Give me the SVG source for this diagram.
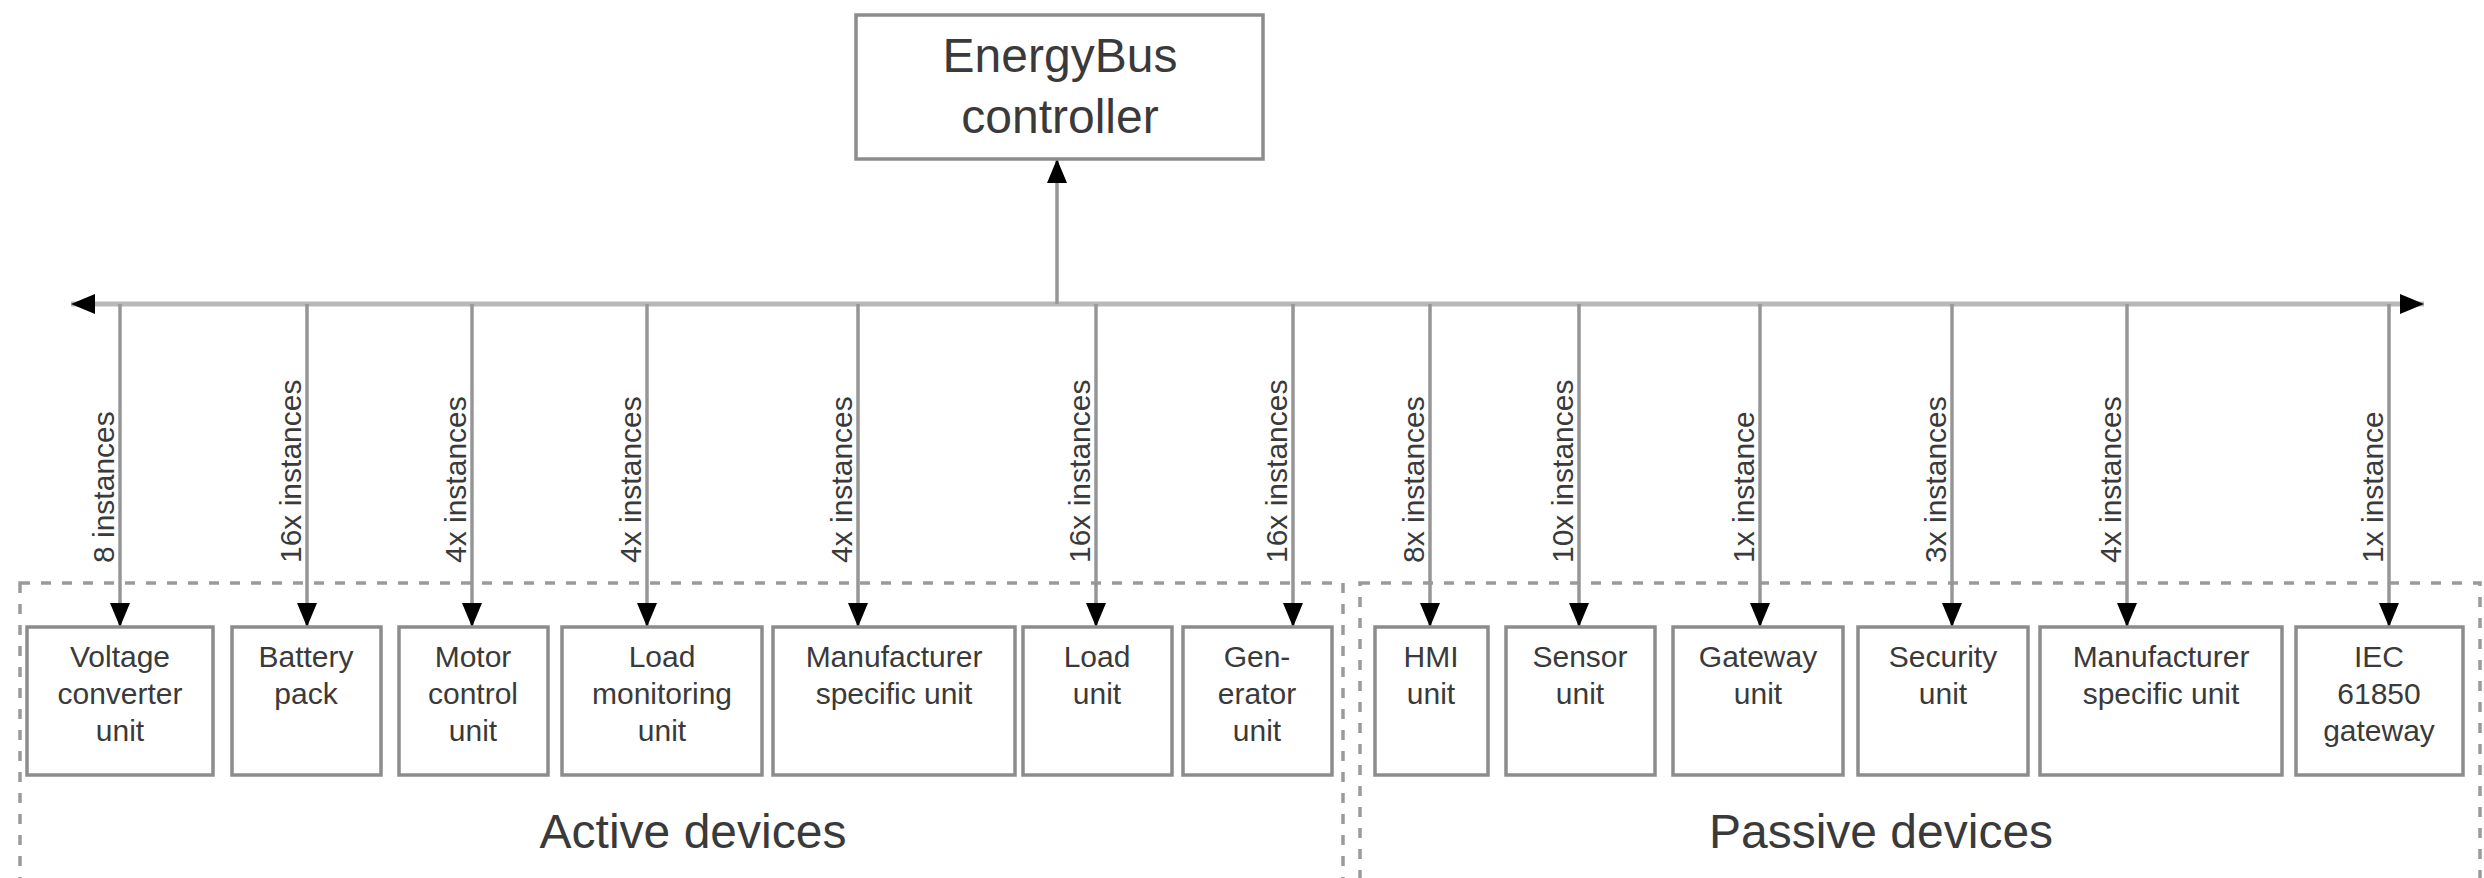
<svg xmlns="http://www.w3.org/2000/svg" width="2484" height="878" viewBox="0 0 2484 878">
<style>
  .box { fill: #ffffff; stroke: #8c8c8c; stroke-width: 3.5; }
  .t { font-family: "Liberation Sans", Arial, sans-serif; fill: #3a3a3a; text-anchor: middle; }
  .bt { font-size: 30px; }
  .big { font-size: 48px; }
  .lbl { font-family: "Liberation Sans", Arial, sans-serif; font-size: 30px; fill: #3a3a3a; text-anchor: start; }
  .bus { stroke: #b8b8b8; stroke-width: 5; fill: none; }
  .drop { stroke: #969696; stroke-width: 3.5; fill: none; marker-end: url(#arr); }
  .grp { fill: none; stroke: #9a9a9a; stroke-width: 3.5; stroke-dasharray: 10 11; }
</style>
<defs>
  <marker id="arr" markerUnits="userSpaceOnUse" markerWidth="24" markerHeight="20" refX="24" refY="10" orient="auto">
    <path d="M0,0 L24,10 L0,20 z" fill="#000"/>
  </marker>
  <marker id="arrS" markerUnits="userSpaceOnUse" markerWidth="24" markerHeight="20" refX="24" refY="10" orient="auto-start-reverse">
    <path d="M0,0 L24,10 L0,20 z" fill="#000"/>
  </marker>
</defs>
<rect width="2484" height="878" fill="#ffffff"/>

<g id="groups">
  <rect id="active-group" class="grp" x="20" y="583" width="1323" height="320"/>
  <rect id="passive-group" class="grp" x="1360" y="583" width="1120" height="320"/>
  <text class="t big" x="693" y="848">Active devices</text>
  <text class="t big" x="1881" y="848">Passive devices</text>
</g>

<g id="connectors">
  <line class="bus" x1="71" y1="304" x2="2424" y2="304" style="marker-start:url(#arrS);marker-end:url(#arrS)"/>
  <line class="drop" x1="1057" y1="304" x2="1057" y2="159"/>
  <line class="drop" x1="120" y1="304" x2="120" y2="627"/>
  <line class="drop" x1="307" y1="304" x2="307" y2="627"/>
  <line class="drop" x1="472" y1="304" x2="472" y2="627"/>
  <line class="drop" x1="647" y1="304" x2="647" y2="627"/>
  <line class="drop" x1="858" y1="304" x2="858" y2="627"/>
  <line class="drop" x1="1096" y1="304" x2="1096" y2="627"/>
  <line class="drop" x1="1293" y1="304" x2="1293" y2="627"/>
  <line class="drop" x1="1430" y1="304" x2="1430" y2="627"/>
  <line class="drop" x1="1579" y1="304" x2="1579" y2="627"/>
  <line class="drop" x1="1760" y1="304" x2="1760" y2="627"/>
  <line class="drop" x1="1952" y1="304" x2="1952" y2="627"/>
  <line class="drop" x1="2127" y1="304" x2="2127" y2="627"/>
  <line class="drop" x1="2389" y1="304" x2="2389" y2="627"/>
  <text class="lbl" transform="translate(114,563) rotate(-90)">8 instances</text>
  <text class="lbl" transform="translate(301,563) rotate(-90)">16x instances</text>
  <text class="lbl" transform="translate(466,563) rotate(-90)">4x instances</text>
  <text class="lbl" transform="translate(641,563) rotate(-90)">4x instances</text>
  <text class="lbl" transform="translate(852,563) rotate(-90)">4x instances</text>
  <text class="lbl" transform="translate(1090,563) rotate(-90)">16x instances</text>
  <text class="lbl" transform="translate(1287,563) rotate(-90)">16x instances</text>
  <text class="lbl" transform="translate(1424,563) rotate(-90)">8x instances</text>
  <text class="lbl" transform="translate(1573,563) rotate(-90)">10x instances</text>
  <text class="lbl" transform="translate(1754,563) rotate(-90)">1x instance</text>
  <text class="lbl" transform="translate(1946,563) rotate(-90)">3x instances</text>
  <text class="lbl" transform="translate(2121,563) rotate(-90)">4x instances</text>
  <text class="lbl" transform="translate(2383,563) rotate(-90)">1x instance</text>
</g>

<g id="controller">
  <rect class="box" x="856" y="15" width="407" height="144"/>
  <text class="t big" x="1060" y="72">EnergyBus</text>
  <text class="t big" x="1060" y="133">controller</text>
</g>

<g id="voltage-converter">
  <rect class="box" x="27" y="627" width="186" height="148"/>
  <text class="t bt" x="120" y="667">Voltage</text>
  <text class="t bt" x="120" y="704">converter</text>
  <text class="t bt" x="120" y="741">unit</text>
</g>
<g id="battery-pack">
  <rect class="box" x="232" y="627" width="149" height="148"/>
  <text class="t bt" x="306" y="667">Battery</text>
  <text class="t bt" x="306" y="704">pack</text>
</g>
<g id="motor-control">
  <rect class="box" x="399" y="627" width="149" height="148"/>
  <text class="t bt" x="473" y="667">Motor</text>
  <text class="t bt" x="473" y="704">control</text>
  <text class="t bt" x="473" y="741">unit</text>
</g>
<g id="load-monitoring">
  <rect class="box" x="562" y="627" width="200" height="148"/>
  <text class="t bt" x="662" y="667">Load</text>
  <text class="t bt" x="662" y="704">monitoring</text>
  <text class="t bt" x="662" y="741">unit</text>
</g>
<g id="manufacturer-active">
  <rect class="box" x="773" y="627" width="242" height="148"/>
  <text class="t bt" x="894" y="667">Manufacturer</text>
  <text class="t bt" x="894" y="704">specific unit</text>
</g>
<g id="load-unit">
  <rect class="box" x="1023" y="627" width="149" height="148"/>
  <text class="t bt" x="1097" y="667">Load</text>
  <text class="t bt" x="1097" y="704">unit</text>
</g>
<g id="generator">
  <rect class="box" x="1183" y="627" width="149" height="148"/>
  <text class="t bt" x="1257" y="667">Gen-</text>
  <text class="t bt" x="1257" y="704">erator</text>
  <text class="t bt" x="1257" y="741">unit</text>
</g>
<g id="hmi">
  <rect class="box" x="1375" y="627" width="113" height="148"/>
  <text class="t bt" x="1431" y="667">HMI</text>
  <text class="t bt" x="1431" y="704">unit</text>
</g>
<g id="sensor">
  <rect class="box" x="1506" y="627" width="149" height="148"/>
  <text class="t bt" x="1580" y="667">Sensor</text>
  <text class="t bt" x="1580" y="704">unit</text>
</g>
<g id="gateway">
  <rect class="box" x="1673" y="627" width="170" height="148"/>
  <text class="t bt" x="1758" y="667">Gateway</text>
  <text class="t bt" x="1758" y="704">unit</text>
</g>
<g id="security">
  <rect class="box" x="1858" y="627" width="170" height="148"/>
  <text class="t bt" x="1943" y="667">Security</text>
  <text class="t bt" x="1943" y="704">unit</text>
</g>
<g id="manufacturer-passive">
  <rect class="box" x="2040" y="627" width="242" height="148"/>
  <text class="t bt" x="2161" y="667">Manufacturer</text>
  <text class="t bt" x="2161" y="704">specific unit</text>
</g>
<g id="iec-gateway">
  <rect class="box" x="2296" y="627" width="167" height="148"/>
  <text class="t bt" x="2379" y="667">IEC</text>
  <text class="t bt" x="2379" y="704">61850</text>
  <text class="t bt" x="2379" y="741">gateway</text>
</g>
</svg>
